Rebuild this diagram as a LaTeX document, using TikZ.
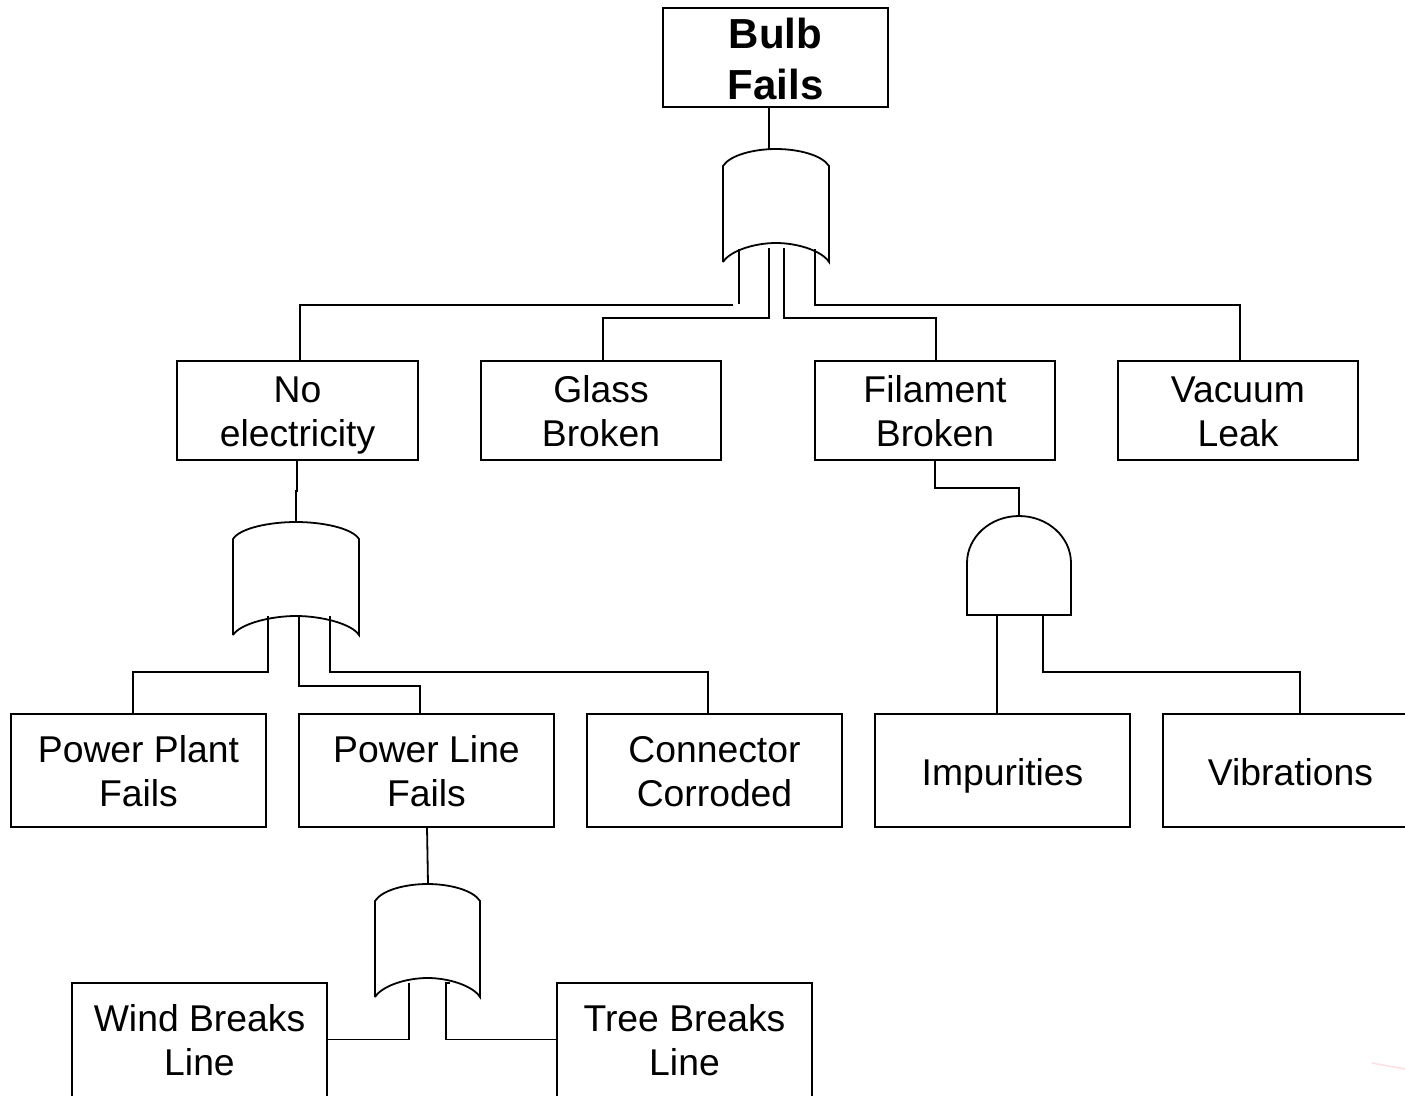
\documentclass[tikz,border=0pt]{standalone}
\usepackage{fontspec}
\setmainfont{Liberation Sans}
\usetikzlibrary{positioning, calc}

\newcommand{\evtext}[3][36pt]{\rule{0pt}{#1}#2\\#3\rule[-8pt]{0pt}{8pt}}
\newcommand{\orgate}[1]{%
    \draw[wire] (#1.south west) -- ([yshift=-17pt]#1.north west)
        .. controls +(7pt,11pt) and ($(#1.north)!.415!(#1.north west)$) .. (#1.north)
        .. controls ($(#1.north)!.415!(#1.north east)$) and ([shift={(-7pt,-6pt)}]#1.north east) .. ([yshift=-17pt]#1.north east)
        -- (#1.south east)
        .. controls +(-7pt,11pt) and ($(#1.south)!.415!(#1.south east)+(0,19pt)$) .. ([yshift=19pt]#1.south)
        .. controls ($(#1.south)!.415!(#1.south west)+(0,19pt)$) and ([shift={(7pt,11pt)}]#1.south west) .. (#1.south west);
}
\newcommand{\andgate}[1]{%
    \draw[wire] (#1.south west) -- ([yshift=-47pt]#1.north west)
        arc[start angle=180, end angle=0, x radius=52pt, y radius=47pt]
        -- (#1.south east) -- cycle;
}

\begin{document}
\begin{tikzpicture}[
        x=1pt, y=1pt,
        wire/.style = {line width=1.8pt, black},
        evt/.style = {rectangle, draw, line width=1.8pt, inner sep=0pt, outer sep=0pt, align=center,
            minimum width=240pt, minimum height=99pt,
            font=\fontsize{37.3}{44.5}\selectfont},
        bigevt/.style = {evt, minimum width=255pt, minimum height=113pt},
        cutevt/.style = {bigevt, minimum height=117pt},
        oneline/.style = {text height=37pt, text depth=8pt},
        topevt/.style = {evt, minimum width=225pt, minimum height=99pt,
            font=\fontsize{42}{51}\selectfont\bfseries},
        orbox/.style = {rectangle, inner sep=0pt, outer sep=0pt, minimum width=106pt, minimum height=113pt},
        andbox/.style = {rectangle, inner sep=0pt, outer sep=0pt, minimum width=104pt, minimum height=99pt}
    ]
    \useasboundingbox (0,0) rectangle (1405,-1095);

    \node[topevt] (bulb) at (775.5,-57.5) {\evtext[40pt]{Bulb}{Fails}};
    \node[orbox, below=42pt of bulb, xshift=.5pt] (orbulb) {};

    \node[evt, minimum width=241pt] (noelec) at (297.5,-410.5) {\evtext{No}{electricity}};
    \node[evt, right=63pt of noelec] (glass) {\evtext{Glass}{Broken}};
    \node[evt, right=94pt of glass] (filament) {\evtext{Filament}{Broken}};
    \node[evt, right=63pt of filament] (vacuum) {\evtext{Vacuum}{Leak}};

    \node[orbox, minimum width=126pt, below=62pt of noelec, xshift=-1.5pt] (orelec) {};
    \node[andbox, below=56pt of filament, xshift=84pt] (andfil) {};

    \node[bigevt] (plant) at (138.5,-770.5) {\evtext{Power Plant}{Fails}};
    \node[bigevt, right=33pt of plant] (line) {\evtext{Power Line}{Fails}};
    \node[bigevt, right=33pt of line] (corroded) {\evtext{Connector}{Corroded}};
    \node[bigevt, oneline, right=33pt of corroded] (impure) {Impurities};
    \node[bigevt, oneline, right=33pt of impure] (vibrate) {Vibrations};

    \node[orbox, minimum width=105pt, below=57pt of line, xshift=1pt] (orline) {};

    \node[cutevt] (wind) at (199.5,-1041.5) {\evtext[32pt]{Wind Breaks}{Line}};
    \node[cutevt, right=230pt of wind] (tree) {\evtext[32pt]{Tree Breaks}{Line}};

    \orgate{orbulb}
    \orgate{orelec}
    \orgate{orline}
    \andgate{andfil}

    \draw[wire] ([xshift=-6.5pt]bulb.south) |- (orbulb.north);
    \coordinate (elecend) at (733,-305);
    \draw[wire] ([xshift=2.5pt]noelec.north) |- (elecend);
    \draw[wire] ([shift={(-37pt,13pt)}]orbulb.south) -- ++(0,-55pt);
    \draw[wire] ([shift={(-7pt,14pt)}]orbulb.south) -- ++(0,-70pt) -| ([xshift=2pt]glass.north);
    \draw[wire] ([shift={(8pt,14pt)}]orbulb.south) -- ++(0,-70pt) -| ([xshift=1pt]filament.north);
    \draw[wire] ([shift={(39pt,13pt)}]orbulb.south) -- ++(0,-56pt) -| ([xshift=2pt]vacuum.north);

    \draw[wire] ([xshift=-.5pt]noelec.south) -- ++(0,-31pt) -| (orelec.north);
    \draw[wire] ([shift={(-28pt,19pt)}]orelec.south) -- ++(0,-56pt) -| ([xshift=-5.5pt]plant.north);
    \draw[wire] ([shift={(3pt,18pt)}]orelec.south) -- ++(0,-69pt) -| ([xshift=-6.5pt]line.north);
    \draw[wire] ([shift={(34pt,19pt)}]orelec.south) -- ++(0,-56pt) -| ([xshift=-6.5pt]corroded.north);

    \draw[wire] (filament.south) -- ++(0,-28pt) -| (andfil.north);
    \draw[wire] ([xshift=-22pt]andfil.south) -- ++(0,-99pt);
    \draw[wire] ([xshift=24pt]andfil.south) -- ++(0,-57pt) -| ([xshift=9.5pt]vibrate.north);

    \draw[wire] ([xshift=.5pt]line.south) -- ([xshift=.5pt]orline.north);
    \draw[wire] ([shift={(-18.5pt,14pt)}]orline.south) |- ([yshift=2pt]wind.east);
    \draw[wire] ([shift={(22.5pt,14pt)}]orline.south) -- ++(-4pt,0) |- ([yshift=2pt]tree.west);

    \draw[line width=1.5pt, red!12!white] (1372,-1063) -- (1405,-1069);
\end{tikzpicture}
\end{document}
